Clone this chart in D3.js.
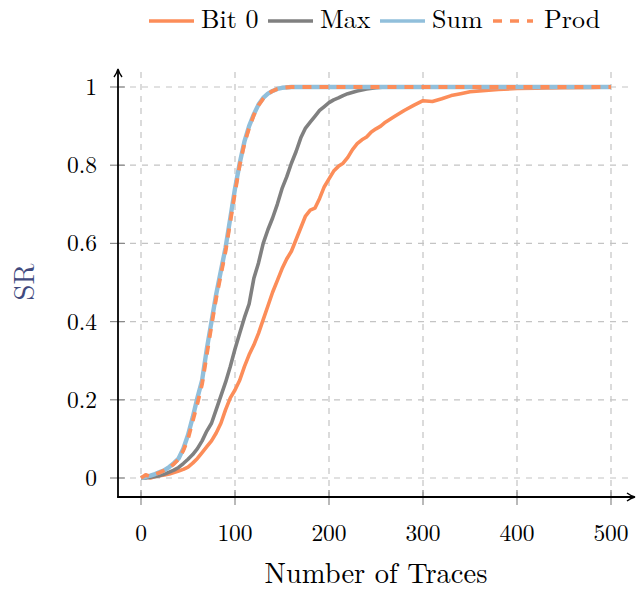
<!DOCTYPE html>
<html>
<head>
<meta charset="utf-8">
<script src="https://cdn.jsdelivr.net/npm/d3@7"></script>
<style>
  body { margin: 0; background: #fff; }
  text { font-family: "Latin Modern Roman", "Liberation Serif", "DejaVu Serif", serif; }
</style>
</head>
<body>
<div id="chart"></div>
<script>
// number of traces for each series
var bitTraces = [0,5,10,15,20,25,30,35,40,45,50,55,60,65,70,75,80,85,90,95,100,105,110,115,120,125,130,135,140,145,150,155,160,165,170,175,180,185,190,195,200,205,210,215,220,225,230,235,240,245,250,255,260,270,280,290,300,310,320,330,340,350,360,370,380,400,420,450,480,500];
var bitValues = [0,0.004,0,0.004,0.006,0.008,0.01,0.014,0.018,0.022,0.028,0.038,0.05,0.065,0.08,0.095,0.115,0.14,0.175,0.205,0.225,0.25,0.285,0.315,0.34,0.37,0.405,0.44,0.475,0.505,0.535,0.56,0.58,0.61,0.64,0.67,0.685,0.69,0.715,0.745,0.765,0.785,0.797,0.805,0.82,0.84,0.855,0.865,0.872,0.885,0.893,0.9,0.91,0.925,0.94,0.953,0.965,0.963,0.97,0.978,0.983,0.988,0.99,0.992,0.994,0.996,0.997,0.998,0.999,1];

var maxTraces = [0,5,10,15,20,25,30,35,40,45,50,55,60,65,70,75,80,85,90,95,100,105,110,115,120,125,130,135,140,145,150,155,160,165,170,175,180,185,190,195,200,205,210,215,220,230,240,250,260,500];
var maxValues = [0,0,0.002,0.004,0.006,0.01,0.015,0.02,0.027,0.037,0.048,0.06,0.075,0.095,0.12,0.14,0.175,0.21,0.245,0.285,0.33,0.37,0.41,0.445,0.51,0.55,0.6,0.635,0.665,0.70,0.74,0.77,0.805,0.835,0.87,0.895,0.91,0.925,0.94,0.95,0.96,0.967,0.972,0.978,0.983,0.99,0.995,0.998,1,1];

var sumTraces = [0,5,10,15,20,25,30,35,40,45,50,55,60,65,70,75,80,85,90,95,100,105,110,115,120,125,130,135,140,145,150,160,500];
var sumValues = [0,0.003,0.006,0.01,0.015,0.02,0.028,0.038,0.05,0.075,0.11,0.155,0.205,0.25,0.33,0.40,0.47,0.53,0.59,0.665,0.74,0.805,0.86,0.90,0.93,0.955,0.972,0.983,0.99,0.995,0.998,1,1];

var prodTraces = [0,5,10,15,20,25,30,35,40,45,50,55,60,65,70,75,80,85,90,95,100,105,110,115,120,125,130,135,140,145,150,160,500];
var prodValues = [0,0.008,0.004,0.01,0.014,0.02,0.026,0.036,0.048,0.07,0.1,0.145,0.19,0.24,0.315,0.39,0.46,0.52,0.58,0.655,0.73,0.8,0.855,0.895,0.928,0.953,0.97,0.982,0.99,0.995,0.998,1,1];

var xTicks = [0,100,200,300,400,500];
var yTicks = [0,0.2,0.4,0.6,0.8,1];

var series = [
  {label: "Bit 0", traces: bitTraces, values: bitValues, color: "#fc8d59", dash: null, width: 3.6},
  {label: "Max", traces: maxTraces, values: maxValues, color: "#808080", dash: null, width: 3.6},
  {label: "Sum", traces: sumTraces, values: sumValues, color: "#91bfdb", dash: null, width: 4.4},
  {label: "Prod", traces: prodTraces, values: prodValues, color: "#fc8d59", dash: "9,8", width: 3.8}
];

var width = 636, height = 592;

var svg = d3.select("#chart").append("svg")
    .attr("width", width)
    .attr("height", height);

var x = d3.scaleLinear().domain([0, 500]).range([141, 611]);
var y = d3.scaleLinear().domain([0, 1]).range([478, 87]);

var axisX = 118, axisY = 497;

// grid
svg.append("g").selectAll("line")
  .data(xTicks)
  .enter().append("line")
    .attr("x1", d => x(d)).attr("x2", d => x(d))
    .attr("y1", 72).attr("y2", axisY)
    .style("stroke", "#c4c4c4")
    .style("stroke-width", 1.2)
    .style("stroke-dasharray", "6,6");

svg.append("g").selectAll("line")
  .data(yTicks)
  .enter().append("line")
    .attr("x1", axisX).attr("x2", 632)
    .attr("y1", d => y(d)).attr("y2", d => y(d))
    .style("stroke", "#c4c4c4")
    .style("stroke-width", 1.2)
    .style("stroke-dasharray", "6,6");

// tick marks
svg.append("g").selectAll("line")
  .data(xTicks)
  .enter().append("line")
    .attr("x1", d => x(d)).attr("x2", d => x(d))
    .attr("y1", axisY - 7).attr("y2", axisY + 8)
    .style("stroke", "#8a8a8a")
    .style("stroke-width", 1.2);

svg.append("g").selectAll("line")
  .data(yTicks)
  .enter().append("line")
    .attr("x1", axisX - 8).attr("x2", axisX + 7)
    .attr("y1", d => y(d)).attr("y2", d => y(d))
    .style("stroke", "#8a8a8a")
    .style("stroke-width", 1.2);

// curves
var line = d3.line()
  .x(d => x(d[0]))
  .y(d => y(d[1]));

series.forEach(s => {
  var pts = s.traces.map((t, i) => [t, s.values[i]]);
  svg.append("path")
    .datum(pts)
    .attr("d", line)
    .style("fill", "none")
    .style("stroke", s.color)
    .style("stroke-width", s.width)
    .style("stroke-linejoin", "round")
    .style("stroke-dasharray", s.dash);
});

// axis lines with arrows
svg.append("defs").append("marker")
    .attr("id", "arrow")
    .attr("viewBox", "0 0 10 10")
    .attr("refX", 8).attr("refY", 5)
    .attr("markerWidth", 10).attr("markerHeight", 10)
    .attr("markerUnits", "userSpaceOnUse")
    .attr("orient", "auto")
  .append("path")
    .attr("d", "M1,1 Q5,4 9,5 Q5,6 1,9")
    .style("fill", "none")
    .style("stroke", "#000")
    .style("stroke-width", 1.4);

svg.append("line")
  .attr("x1", axisX - 0.8).attr("x2", 634)
  .attr("y1", axisY).attr("y2", axisY)
  .style("stroke", "#000").style("stroke-width", 1.8)
  .attr("marker-end", "url(#arrow)");

svg.append("line")
  .attr("x1", axisX).attr("x2", axisX)
  .attr("y1", axisY + 0.8).attr("y2", 70)
  .style("stroke", "#000").style("stroke-width", 1.8)
  .attr("marker-end", "url(#arrow)");

// tick labels
svg.append("g").selectAll("text")
  .data(xTicks)
  .enter().append("text")
    .attr("x", d => x(d))
    .attr("y", 541)
    .style("text-anchor", "middle")
    .style("font-size", "23.5px")
    .text(d => d);

svg.append("g").selectAll("text")
  .data(yTicks)
  .enter().append("text")
    .attr("x", 97)
    .attr("y", d => y(d) + 8)
    .style("text-anchor", "end")
    .style("font-size", "23.5px")
    .text(d => d);

// axis labels
svg.append("text")
  .attr("x", 376).attr("y", 583)
  .style("text-anchor", "middle")
  .style("font-size", "28.5px")
  .text("Number of Traces");

svg.append("text")
  .attr("transform", "translate(34,282) rotate(-90)")
  .style("text-anchor", "middle")
  .style("font-size", "28.5px")
  .style("fill", "#414a7e")
  .text("SR");

// legend
var legendX = [149, 268, 380, 493];
var legend = svg.selectAll(".legend")
    .data(series)
  .enter().append("g")
    .attr("class", "legend")
    .attr("transform", (d, i) => `translate(${legendX[i]},21)`);

legend.append("line")
  .attr("x1", 0).attr("x2", (d, i) => i == 3 ? 40 : 45)
  .attr("y1", 0).attr("y2", 0)
  .style("stroke", d => d.color)
  .style("stroke-width", 3.6)
  .style("stroke-dasharray", d => d.dash);

legend.append("text")
  .attr("x", (d, i) => i == 3 ? 51 : 52)
  .attr("y", 6.5)
  .style("font-size", "26px")
  .text(d => d.label);
</script>
</body>
</html>
